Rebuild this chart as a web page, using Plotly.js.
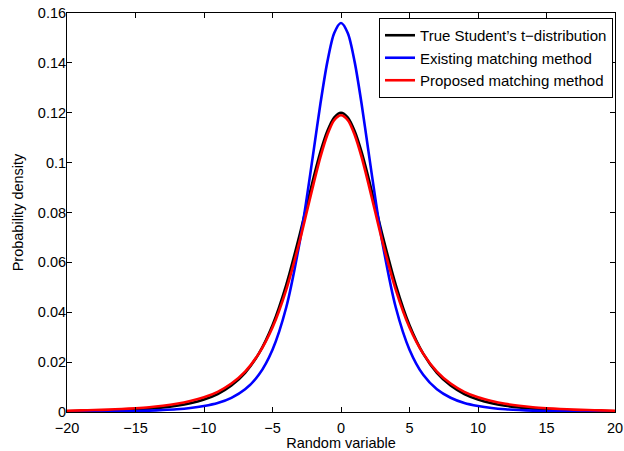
<!DOCTYPE html>
<html>
<head>
<meta charset="utf-8">
<script src="https://cdn.plot.ly/plotly-3.0.1.min.js"></script>
<style>
html,body{margin:0;padding:0;background:#fff;}
#chart{width:624px;height:451px;}
</style>
</head>
<body>
<div id="chart"></div>
<script>
// Data
var xValues = [-20,-19,-18,-17,-16,-15,-14,-13,-12,-11,-10,-9,-8,-7,-6,-5,-4,-3,-2.5,-2,-1.5,-1,-0.5,0,0.5,1,1.5,2,2.5,3,4,5,6,7,8,9,10,11,12,13,14,15,16,17,18,19,20];
var trueT = [0.00028,0.00036,0.00046,0.00059,0.00077,0.0010,0.00135,0.0018,0.0025,0.0035,0.0050,0.0072,0.0106,0.0157,0.0234,0.0348,0.0509,0.0715,0.0828,0.0940,0.1043,0.1126,0.1181,0.1200,0.1181,0.1126,0.1043,0.0940,0.0828,0.0715,0.0509,0.0348,0.0234,0.0157,0.0106,0.0072,0.0050,0.0035,0.0025,0.0018,0.00135,0.0010,0.00077,0.00059,0.00046,0.00036,0.00028];
var existing = [0.00011,0.00014,0.00018,0.00023,0.00031,0.00041,0.00056,0.00078,0.0011,0.0016,0.0024,0.0036,0.0057,0.0091,0.0149,0.0250,0.0419,0.0686,0.0858,0.1047,0.1237,0.1403,0.1519,0.1560,0.1519,0.1403,0.1237,0.1047,0.0858,0.0686,0.0419,0.0250,0.0149,0.0091,0.0057,0.0036,0.0024,0.0016,0.0011,0.00078,0.00056,0.00041,0.00031,0.00023,0.00018,0.00014,0.00011];
var proposed = [0.00053,0.00064,0.00078,0.00097,0.0012,0.0015,0.0019,0.0025,0.0033,0.0044,0.0059,0.0081,0.0114,0.0162,0.0234,0.0339,0.0490,0.0689,0.0802,0.0916,0.1023,0.1111,0.1170,0.1190,0.1170,0.1111,0.1023,0.0916,0.0802,0.0689,0.0490,0.0339,0.0234,0.0162,0.0114,0.0081,0.0059,0.0044,0.0033,0.0025,0.0019,0.0015,0.0012,0.00097,0.00078,0.00064,0.00053];
var seriesNames = ["True Student\u2019s t\u2212distribution", "Existing matching method", "Proposed matching method"];
var xTickVals = [-20,-15,-10,-5,0,5,10,15,20];
var yTickVals = [0,0.02,0.04,0.06,0.08,0.1,0.12,0.14,0.16];
var yTickText = ["0","0.02","0.04","0.06","0.08","0.1","0.12","0.14","0.16"];

var fam = "Liberation Sans, Arial, Helvetica, sans-serif";
var tickFont = {family: fam, size: 14.5, color: "#000"};
var titleFont = {family: fam, size: 14.5, color: "#000"};
var legendFont = {family: fam, size: 15, color: "#000"};
function mk(y, name, color) {
  return {x: xValues, y: y, name: name, type: "scatter", mode: "lines",
          line: {color: color, width: 2.6, shape: "spline", smoothing: 0.8}};
}
var data = [
  mk(trueT, seriesNames[0], "#000000"),
  mk(existing, seriesNames[1], "#0000ff"),
  mk(proposed, seriesNames[2], "#ff0000")
];
var axisCommon = {showgrid: false, zeroline: false, showline: true, linecolor: "#000", linewidth: 1,
  mirror: "allticks", ticks: "inside", ticklen: 5, tickcolor: "#000", tickwidth: 1, tickfont: tickFont};
var layout = {
  width: 624, height: 451,
  margin: {l: 67, r: 9, t: 13, b: 38.5, pad: 0},
  paper_bgcolor: "#fff", plot_bgcolor: "#fff",
  font: tickFont,
  showlegend: true,
  legend: {x: 0.9964, xanchor: "right", y: 0.9875, yanchor: "top",
    bordercolor: "#000", borderwidth: 1, bgcolor: "#fff", font: legendFont,
    tracegroupgap: 0},
  xaxis: Object.assign({}, axisCommon, {range: [-20, 20], tickmode: "array", tickvals: xTickVals,
    ticklabelstandoff: 3,
    title: {text: "Random variable", font: titleFont, standoff: 1}}),
  yaxis: Object.assign({}, axisCommon, {range: [0, 0.16], tickmode: "array", tickvals: yTickVals, ticktext: yTickText,
    ticklabelstandoff: -3,
    title: {text: "Probability density", font: titleFont, standoff: 10}})
};
Plotly.newPlot("chart", data, layout, {displayModeBar: false, staticPlot: true});
</script>
</body>
</html>
